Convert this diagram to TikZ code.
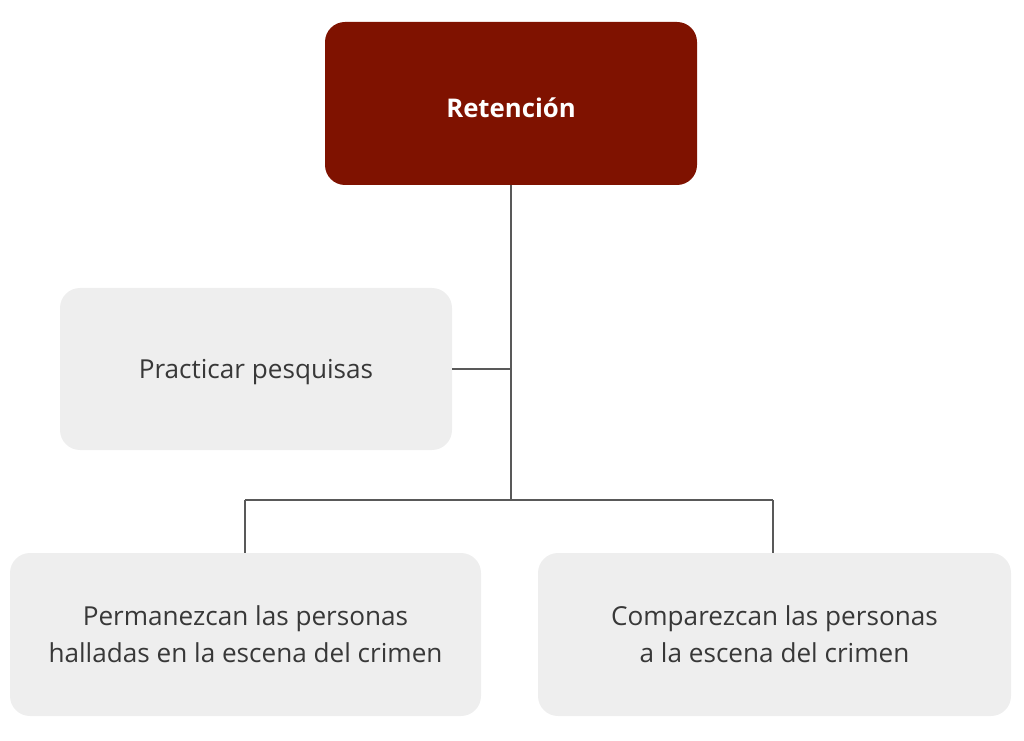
\documentclass[tikz,border=0pt]{standalone}
\usepackage{fontspec}
\setmainfont{Open Sans}
\begin{document}
\begin{tikzpicture}[x=0.75pt,y=-0.75pt,
  box/.style={draw=none,rounded corners=15pt,inner sep=0pt,align=center,font=\fontsize{19.6}{27.8}\selectfont,text=black!78},
  greybox/.style={box,fill=black!6.5},
  topbox/.style={box,fill={rgb,255:red,127;green,18;blue,0},text=white,font=\fontsize{19.3}{27}\selectfont\bfseries},
  link/.style={draw=black!65,line width=1.5pt}]
\useasboundingbox (0,0) rectangle (1024,741);
\node[topbox,minimum width=372*0.75pt,minimum height=163*0.75pt] (top) at (511,103.5) {\raisebox{-10.5pt}[0pt][0pt]{Retención}};
\node[greybox,minimum width=392*0.75pt,minimum height=162*0.75pt] (prac) at (256,369) {\raisebox{-7.3pt}[0pt][0pt]{Practicar pesquisas}};
\node[greybox,minimum width=471*0.75pt,minimum height=163*0.75pt] (perm) at (245.5,634.5) {Permanezcan las personas\\halladas en la escena del crimen};
\node[greybox,minimum width=473*0.75pt,minimum height=163*0.75pt] (comp) at (774.5,634.5) {Comparezcan las personas\\a la escena del crimen};
\coordinate (j1) at (511,369);
\coordinate (j2) at (511,500);
\coordinate (jl) at (245,500);
\coordinate (jr) at (773,500);
\draw[link] (top.south) -- (j2);
\draw[link] (prac.east) -- (j1);
\draw[link] (jl) -- (jr);
\draw[link] (jl) -- (jl |- perm.north);
\draw[link] (jr) -- (jr |- comp.north);
\end{tikzpicture}
\end{document}
